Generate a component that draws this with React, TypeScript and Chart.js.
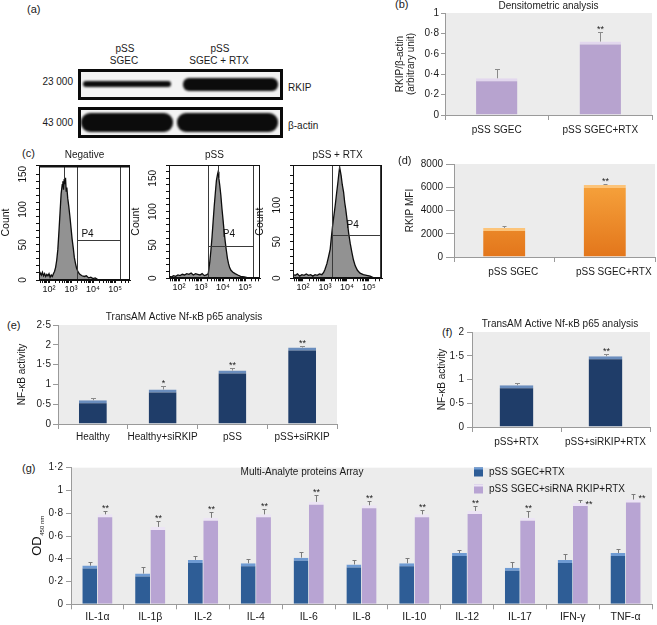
import React, { useEffect, useRef } from 'react';
import { Chart, registerables } from 'chart.js';

Chart.register(...registerables);

const FONT = '"Liberation Sans", Arial, Helvetica, sans-serif';
Chart.defaults.font.family = FONT;
Chart.defaults.color = '#1a1a1a';

// ---------------- data ----------------
const densCategories = ['pSS SGEC', 'pSS SGEC+RTX'];
const densValues = [0.36, 0.72];
const densErrors = [0.45, 0.81];
const densStars = ['', '**'];

const mfiCategories = ['pSS SGEC', 'pSS SGEC+RTX'];
const mfiValues = [2500, 6200];
const mfiErrors = [2650, 6280];
const mfiStars = ['', '**'];

const nfkbCategories = ['Healthy', 'Healthy+siRKIP', 'pSS', 'pSS+siRKIP'];
const nfkbValues = [0.6, 0.87, 1.35, 1.93];
const nfkbErrors = [0.65, 0.95, 1.42, 1.98];
const nfkbStars = ['', '*', '**', '**'];

const rtxCategories = ['pSS+RTX', 'pSS+siRKIP+RTX'];
const rtxValues = [0.88, 1.49];
const rtxErrors = [0.93, 1.54];
const rtxStars = ['', '**'];

const cytokines = ['IL-1α', 'IL-1β', 'IL-2', 'IL-4', 'IL-6', 'IL-8', 'IL-10', 'IL-12', 'IL-17', 'IFN-γ', 'TNF-α'];
const rtxOD = [0.34, 0.27, 0.39, 0.36, 0.41, 0.35, 0.36, 0.45, 0.32, 0.39, 0.45];
const rtxODErr = [0.37, 0.33, 0.42, 0.4, 0.46, 0.39, 0.41, 0.48, 0.37, 0.44, 0.49];
const sirnaOD = [0.79, 0.68, 0.76, 0.79, 0.9, 0.87, 0.79, 0.82, 0.76, 0.89, 0.92];
const sirnaODErr = [0.82, 0.735, 0.81, 0.84, 0.96, 0.91, 0.83, 0.86, 0.82, 0.92, 0.97];
const sirnaStars = ['**', '**', '**', '**', '**', '**', '**', '**', '**', '**', '**'];
const rtxStarsG = ['', '', '', '', '', '', '', '', '', '', ''];

// flow cytometry histograms (x = log10 fluorescence, y = count)
const negLog = [1.55, 1.6, 1.65, 1.7, 1.75, 1.8, 1.85, 1.9, 1.95, 2.0, 2.05, 2.1, 2.15, 2.2, 2.25, 2.3, 2.35, 2.4, 2.45, 2.5, 2.55, 2.6, 2.63, 2.66, 2.69, 2.72, 2.75, 2.78, 2.81, 2.85, 2.9, 2.95, 3.0, 3.05, 3.1, 3.15, 3.2, 3.25, 3.3, 3.35, 3.4, 3.5, 3.6, 3.7, 3.8, 3.9, 4.0, 4.1, 4.2, 4.3, 5.7];
const negCount = [6, 10, 7, 11, 6, 9, 5, 8, 6, 9, 4, 7, 5, 9, 12, 18, 28, 43, 68, 95, 122, 135, 140, 128, 143, 136, 145, 126, 131, 116, 104, 90, 74, 58, 46, 32, 24, 17, 13, 10, 8, 6, 5, 6, 3, 4, 2, 3, 1, 0, 0];

const posLog = [1.55, 1.65, 1.75, 1.85, 1.95, 2.05, 2.15, 2.25, 2.35, 2.45, 2.55, 2.65, 2.75, 2.85, 2.95, 3.05, 3.15, 3.25, 3.33, 3.4, 3.45, 3.5, 3.55, 3.6, 3.65, 3.7, 3.75, 3.78, 3.81, 3.85, 3.9, 3.95, 4.0, 4.05, 4.1, 4.15, 4.2, 4.25, 4.3, 4.36, 4.45, 4.55, 4.67, 4.8, 4.97, 5.1, 5.2, 5.7];
const posCount = [3, 2, 4, 3, 5, 4, 6, 5, 7, 6, 8, 5, 7, 6, 5, 7, 4, 5, 7, 25, 42, 62, 85, 108, 128, 147, 156, 160, 150, 140, 125, 105, 88, 70, 55, 42, 30, 22, 16, 12, 9, 7, 5, 3, 2, 1, 0, 0];

const rtxLog = [1.55, 1.65, 1.75, 1.85, 1.95, 2.05, 2.15, 2.25, 2.35, 2.45, 2.55, 2.65, 2.75, 2.86, 2.94, 3.0, 3.09, 3.16, 3.24, 3.3, 3.35, 3.41, 3.47, 3.53, 3.59, 3.63, 3.67, 3.7, 3.74, 3.79, 3.85, 3.9, 3.95, 4.0, 4.08, 4.15, 4.23, 4.3, 4.38, 4.48, 4.6, 4.75, 4.9, 5.06, 5.2, 5.3, 5.6];
const rtxCount = [5, 4, 6, 3, 5, 4, 6, 4, 5, 3, 5, 4, 6, 5, 8, 12, 20, 29, 40, 58, 72, 86, 100, 116, 131, 142, 152, 147, 140, 128, 118, 104, 94, 82, 62, 48, 35, 25, 17, 11, 7, 5, 4, 3, 1, 0, 0];

const flowDecades = [2, 3, 4, 5];
const flowDecadeLabels = ['10²', '10³', '10⁴', '10⁵'];
const flowTitles = ['Negative', 'pSS', 'pSS + RTX'];
const gateLeft = [3.27, 3.33, 3.32];
const gateRight = [5.23, 5.38, 5.5];
const gateLevel = [57, 49, 59];
const peakMarker = [2.7, 3.79, 3.65];
const peakMarkerTo = [143, 158, 150];
const gateName = 'P4';

// ---------------- plugins ----------------
const bgPlugin = {
  id: 'plotBg',
  beforeDraw(chart: any, _a: any, o: any) {
    if (!o || !o.fill) return;
    const { ctx, chartArea: a } = chart;
    ctx.save();
    ctx.fillStyle = o.fill;
    ctx.fillRect(a.left, a.top, a.right - a.left, a.bottom - a.top);
    ctx.restore();
  },
};

const errPlugin = {
  id: 'errBars',
  afterDatasetsDraw(chart: any, _a: any, o: any) {
    const { ctx } = chart;
    const ys = chart.scales.y;
    const cap = o.cap ?? 2.5;
    chart.data.datasets.forEach((ds: any, i: number) => {
      if (!ds.errors) return;
      const meta = chart.getDatasetMeta(i);
      meta.data.forEach((el: any, j: number) => {
        const x = Math.round(el.x) + 0.5;
        const top = el.y;
        const ey = Math.round(ys.getPixelForValue(ds.errors[j])) + 0.5;
        ctx.save();
        ctx.strokeStyle = o.lineColor || '#888';
        ctx.lineWidth = 1;
        ctx.beginPath();
        ctx.moveTo(x, top);
        ctx.lineTo(x, ey);
        ctx.moveTo(x - cap, ey);
        ctx.lineTo(x + cap, ey);
        ctx.stroke();
        const s = ds.stars ? ds.stars[j] : '';
        if (s) {
          ctx.fillStyle = '#1a1a1a';
          ctx.font = `${o.starSize || 9}px ${FONT}`;
          ctx.textBaseline = 'alphabetic';
          const beside = o.besideDataset === i && (o.besideIdx || []).includes(j);
          if (beside) {
            ctx.textAlign = 'left';
            ctx.fillText(s, x + (o.besideDx ?? 4), ey + (o.besideDy ?? 6));
          } else {
            ctx.textAlign = 'center';
            ctx.fillText(s, x, ey - 1);
          }
        }
        ctx.restore();
      });
    });
  },
};

const captionPlugin = {
  id: 'captions',
  afterDraw(chart: any, _a: any, o: any) {
    const items = (o && o.items) || [];
    const { ctx, chartArea: a } = chart;
    for (const it of items) {
      ctx.save();
      ctx.font = `${it.size ?? 10}px ${FONT}`;
      ctx.fillStyle = '#1a1a1a';
      ctx.textAlign = it.align ?? 'center';
      ctx.textBaseline = 'middle';
      const x = it.x ?? (a.left + a.right) / 2;
      ctx.fillText(it.text, x, it.y);
      ctx.restore();
    }
  },
};

const framePlugin = {
  id: 'frame',
  afterDraw(chart: any, _a: any, o: any) {
    if (!o || !o.on) return;
    const { ctx, chartArea: a } = chart;
    ctx.save();
    ctx.strokeStyle = '#111';
    ctx.lineWidth = 1;
    ctx.strokeRect(Math.round(a.left) + 0.5, Math.round(a.top) + 0.5, Math.round(a.right - a.left) - 1, Math.round(a.bottom - a.top) - 1);
    if (o.top > 1) {
      ctx.lineWidth = o.top;
      ctx.beginPath();
      ctx.moveTo(a.left, a.top + o.top / 2);
      ctx.lineTo(a.right, a.top + o.top / 2);
      ctx.stroke();
    }
    ctx.restore();
  },
};

const gatePlugin = {
  id: 'gates',
  afterDatasetsDraw(chart: any, _a: any, o: any) {
    if (!o || o.left === undefined) return;
    const { ctx, chartArea: a, scales } = chart;
    const xs = scales.x;
    const ys = scales.y;
    const px = (v: number) => Math.round(xs.getPixelForValue(v)) + 0.5;
    const py = (v: number) => Math.round(ys.getPixelForValue(v)) + 0.5;
    const xl = px(o.left);
    const xr = px(o.right);
    const yl = py(o.level);
    const xm = px(o.marker);
    ctx.save();
    ctx.strokeStyle = '#3a3a3a';
    ctx.lineWidth = 1;
    ctx.beginPath();
    ctx.moveTo(xl, a.top);
    ctx.lineTo(xl, a.bottom);
    ctx.moveTo(xr, a.top);
    ctx.lineTo(xr, a.bottom);
    ctx.moveTo(xl, yl);
    ctx.lineTo(xr, yl);
    ctx.moveTo(xm, a.top);
    ctx.lineTo(xm, py(o.markerTo));
    ctx.stroke();
    ctx.fillStyle = '#111';
    ctx.font = `10px ${FONT}`;
    ctx.textAlign = 'center';
    ctx.textBaseline = 'middle';
    ctx.fillText(o.label, xs.getPixelForValue(o.labelX), ys.getPixelForValue(o.labelY));
    ctx.restore();
  },
};

const legendPlugin = {
  id: 'boxLegend',
  afterDraw(chart: any, _a: any, o: any) {
    if (!o || o.x === undefined) return;
    const { ctx } = chart;
    chart.data.datasets.forEach((ds: any, i: number) => {
      const y = o.y + i * o.gap;
      ctx.save();
      ctx.fillStyle = ds.backgroundColor;
      ctx.fillRect(o.x, y - 4.5, 9, 9);
      ctx.fillStyle = ds.borderColor;
      ctx.fillRect(o.x, y - 4.5, 9, 2);
      ctx.fillStyle = '#1a1a1a';
      ctx.font = `${o.size}px ${FONT}`;
      ctx.textAlign = 'left';
      ctx.textBaseline = 'middle';
      ctx.fillText(ds.label, o.x + 15, y);
      ctx.restore();
    });
  },
};

const odPlugin = {
  id: 'odTitle',
  afterDraw(chart: any, _a: any, o: any) {
    if (!o || !o.main) return;
    const { ctx, chartArea: a } = chart;
    ctx.save();
    ctx.translate(o.x, (a.top + a.bottom) / 2);
    ctx.rotate(-Math.PI / 2);
    const mainFont = `${o.size}px ${FONT}`;
    const subFont = `${o.subSize}px ${FONT}`;
    ctx.font = mainFont;
    const w1 = ctx.measureText(o.main).width;
    ctx.font = subFont;
    const w2 = ctx.measureText(o.sub).width;
    const x0 = -(w1 + w2) / 2;
    ctx.fillStyle = '#111';
    ctx.textAlign = 'left';
    ctx.textBaseline = 'middle';
    ctx.font = mainFont;
    ctx.fillText(o.main, x0, 0);
    ctx.font = subFont;
    ctx.fillText(o.sub, x0 + w1 + 0.5, o.size * 0.38);
    ctx.restore();
  },
};

const allPlugins = [bgPlugin, errPlugin, captionPlugin, framePlugin, gatePlugin, legendPlugin, odPlugin];

// ---------------- helpers ----------------
const AXIS = '#9a9a9a';
const PLOT_BG = '#ececec';
const fmt = (v: number) => String(Math.round(v * 100) / 100).replace('.', '·');
const fmtInt = (v: number) => String(Math.round(v));

function barScales(o: any) {
  return {
    x: {
      grid: { display: true, drawOnChartArea: false, drawTicks: true, tickLength: 5, color: AXIS, offset: true },
      border: { display: true, color: AXIS },
      ticks: { color: '#1a1a1a', font: { size: o.xFont ?? 10 }, padding: o.xPad, maxRotation: 0, autoSkip: false, labelOffset: o.xLabelOffset ?? 0 },
      afterFit: (s: any) => { s.height = o.xHeight; },
    },
    y: {
      min: 0,
      max: o.yMax,
      ticks: { stepSize: o.yStep, color: '#1a1a1a', font: { size: 10 }, padding: o.yPad, callback: (v: any) => o.fmt(Number(v)) },
      grid: { drawOnChartArea: false, drawTicks: true, tickLength: o.yTickLen, color: AXIS },
      border: { display: true, color: AXIS },
      title: o.yTitle ?? { display: false },
      afterFit: (s: any) => { s.width = o.yWidth; },
    },
  };
}

function barSet(label: string, values: number[], errors: number[], stars: string[], color: any, edge: string, pct: number, cat = 1) {
  return {
    label,
    data: values,
    errors,
    stars,
    backgroundColor: color,
    borderColor: edge,
    borderWidth: { top: 3, left: 0, right: 0, bottom: 0 },
    barPercentage: pct,
    categoryPercentage: cat,
  };
}

const baseOpts = { responsive: false, maintainAspectRatio: false, animation: false, devicePixelRatio: 1, events: [] as string[] };

const orangeFill = (ctx: any) => {
  const ch = ctx.chart;
  const a = ch.chartArea;
  if (!a) return '#f29a30';
  const g = ch.ctx.createLinearGradient(0, a.top, 0, a.bottom);
  g.addColorStop(0, '#fbae45');
  g.addColorStop(1, '#e3761b');
  return g;
};

// ---------------- chart configs ----------------
function makeDens() {
  return {
    type: 'bar',
    data: { labels: densCategories, datasets: [barSet('RKIP/β-actin', densValues, densErrors, densStars, '#b7a3cf', '#e2d7ee', 0.4)] },
    options: {
      ...baseOpts,
      layout: { padding: { top: 13, right: 5, left: 0, bottom: 0 } },
      plugins: {
        legend: { display: false }, tooltip: { enabled: false },
        plotBg: { fill: PLOT_BG },
        errBars: { lineColor: '#8a8a8a', cap: 2.5 },
        captions: { items: [{ text: 'Densitometric analysis', y: 6, size: 10 }] },
      },
      scales: barScales({
        yMax: 1, yStep: 0.2, yWidth: 65, xHeight: 25, yTickLen: 4, yPad: 2, xPad: 4, fmt,
        yTitle: { display: true, text: ['RKIP/β-actin', '(arbitrary unit)'], font: { size: 10, lineHeight: 1.05 }, padding: { top: 15, bottom: 0 }, color: '#1a1a1a' },
      }),
    },
  };
}

function makeMfi() {
  return {
    type: 'bar',
    data: { labels: mfiCategories, datasets: [barSet('RKIP MFI', mfiValues, mfiErrors, mfiStars, orangeFill, '#fcc47a', 0.42)] },
    options: {
      ...baseOpts,
      layout: { padding: { top: 9, right: 2, left: 0, bottom: 0 } },
      plugins: {
        legend: { display: false }, tooltip: { enabled: false },
        plotBg: { fill: PLOT_BG },
        errBars: { lineColor: '#8a8a8a', cap: 2 },
      },
      scales: barScales({
        yMax: 8000, yStep: 2000, yWidth: 59, xHeight: 28, yTickLen: 8, yPad: 3, xPad: 4, fmt: fmtInt, xLabelOffset: 9,
        yTitle: { display: true, text: 'RKIP MFI', font: { size: 10 }, padding: { top: 9, bottom: 0 }, color: '#1a1a1a' },
      }),
    },
  };
}

function makeNfkb() {
  return {
    type: 'bar',
    data: { labels: nfkbCategories, datasets: [barSet('NF-κB activity', nfkbValues, nfkbErrors, nfkbStars, '#1f3d69', '#6a8dbd', 0.4)] },
    options: {
      ...baseOpts,
      layout: { padding: { top: 25, right: 8, left: 0, bottom: 0 } },
      plugins: {
        legend: { display: false }, tooltip: { enabled: false },
        plotBg: { fill: PLOT_BG },
        errBars: { lineColor: '#8a8a8a', cap: 2.5 },
        captions: { items: [{ text: 'TransAM Active Nf-κB p65 analysis', x: 184, y: 17, size: 10 }] },
      },
      scales: barScales({
        yMax: 2.5, yStep: 0.5, yWidth: 58, xHeight: 24, yTickLen: 5, yPad: 2, xPad: 2, fmt,
        yTitle: { display: true, text: 'NF-κB activity', font: { size: 10 }, padding: { top: 16, bottom: 0 }, color: '#1a1a1a' },
      }),
    },
  };
}

function makeRtx() {
  return {
    type: 'bar',
    data: { labels: rtxCategories, datasets: [barSet('NF-κB activity', rtxValues, rtxErrors, rtxStars, '#1f3d69', '#6a8dbd', 0.38)] },
    options: {
      ...baseOpts,
      layout: { padding: { top: 32, right: 7, left: 0, bottom: 0 } },
      plugins: {
        legend: { display: false }, tooltip: { enabled: false },
        plotBg: { fill: PLOT_BG },
        errBars: { lineColor: '#8a8a8a', cap: 2.5 },
        captions: { items: [{ text: 'TransAM Active Nf-κB p65 analysis', x: 140, y: 24, size: 10 }] },
      },
      scales: barScales({
        yMax: 2, yStep: 0.5, yWidth: 52, xHeight: 23, yTickLen: 5, yPad: 3, xPad: 4, fmt,
        yTitle: { display: true, text: 'NF-κB activity', font: { size: 10 }, padding: { top: 16, bottom: 0 }, color: '#1a1a1a' },
      }),
    },
  };
}

function makeArray() {
  return {
    type: 'bar',
    data: {
      labels: cytokines,
      datasets: [
        barSet('pSS SGEC+RTX', rtxOD, rtxODErr, rtxStarsG, '#2e5d96', '#6f9bd3', 0.97, 0.58),
        barSet('pSS SGEC+siRNA RKIP+RTX', sirnaOD, sirnaODErr, sirnaStars, '#b8a4d3', '#ece4f5', 0.97, 0.58),
      ],
    },
    options: {
      ...baseOpts,
      layout: { padding: { top: 12.7, right: 5, left: 0, bottom: 0 } },
      plugins: {
        legend: { display: false }, tooltip: { enabled: false },
        plotBg: { fill: PLOT_BG },
        errBars: { lineColor: '#7a7a7a', cap: 2, starSize: 9, besideDataset: 1, besideIdx: [9, 10], besideDx: 5, besideDy: 6 },
        captions: { items: [{ text: 'Multi-Analyte proteins Array', x: 302, y: 17, size: 10 }] },
        boxLegend: { x: 474, y: 17, gap: 17, size: 10 },
        odTitle: { main: 'OD', sub: '450 nm', size: 13, subSize: 6, x: 37 },
      },
      scales: barScales({
        yMax: 1.2, yStep: 0.2, yWidth: 71, xHeight: 20.7, yTickLen: 5, yPad: 3, xPad: 2, fmt, xFont: 10.5,
      }),
    },
  };
}

function flowTicks() {
  const out: number[] = [];
  for (const d of [1, 2, 3, 4, 5]) {
    for (const m of [1, 2, 3, 4, 5, 6, 7, 8, 9]) out.push(d + Math.log10(m));
  }
  return out;
}

function makeFlow(i: number, logs: number[], counts: number[], yMax: number, xMax: number, xHeight: number, topW: number, p4: { x: number; y: number }) {
  const ticks = flowTicks();
  return {
    type: 'line',
    data: {
      datasets: [{
        data: logs.map((x, k) => ({ x, y: counts[k] })),
        borderColor: '#0d0d0d', borderWidth: 1.3, backgroundColor: '#929292', fill: 'origin', pointRadius: 0, tension: 0,
      }],
    },
    options: {
      ...baseOpts,
      layout: { padding: { top: 20, right: 5, left: 0, bottom: 0 } },
      plugins: {
        legend: { display: false }, tooltip: { enabled: false },
        captions: { items: [{ text: flowTitles[i], y: 10, size: 10 }] },
        frame: { on: true, top: topW },
        gates: { left: gateLeft[i], right: gateRight[i], level: gateLevel[i], marker: peakMarker[i], markerTo: peakMarkerTo[i], label: gateName, labelX: p4.x, labelY: p4.y },
      },
      scales: {
        x: {
          type: 'linear', min: 1.545, max: xMax,
          afterBuildTicks: (s: any) => { s.ticks = ticks.filter((v) => v >= s.min && v <= s.max).map((v) => ({ value: v })); },
          ticks: {
            autoSkip: false, maxRotation: 0, font: { size: 9 }, padding: 1, color: '#111',
            callback: (v: any) => { const k = flowDecades.indexOf(Number(v)); return k >= 0 ? flowDecadeLabels[k] : ''; },
          },
          grid: { drawOnChartArea: false, tickLength: 3, color: '#111' },
          border: { color: '#111' },
          afterFit: (s: any) => { s.height = xHeight; },
        },
        y: {
          min: 0, max: yMax,
          ticks: {
            stepSize: 10, autoSkip: false, minRotation: 90, maxRotation: 90, crossAlign: 'center', padding: 4, font: { size: 10 }, color: '#111',
            callback: (v: any) => (Number(v) % 50 === 0 ? String(v) : ''),
          },
          grid: { drawOnChartArea: false, tickLength: 3, color: '#111' },
          border: { color: '#111' },
          title: { display: true, text: 'Count', font: { size: 10.5 }, padding: { top: 0, bottom: 0 }, color: '#111' },
          afterFit: (s: any) => { s.width = 39; },
        },
      },
    },
  };
}

// ---------------- components ----------------
function ChartBox({ left, top, width, height, make }: { left: number; top: number; width: number; height: number; make: () => any }) {
  const ref = useRef<HTMLCanvasElement>(null);
  useEffect(() => {
    const cfg = make();
    cfg.plugins = allPlugins;
    const c = new Chart(ref.current as HTMLCanvasElement, cfg);
    return () => c.destroy();
  }, []);
  return (
    <canvas
      ref={ref}
      width={width}
      height={height}
      style={{ position: 'absolute', left, top, width, height, display: 'block' }}
    />
  );
}

function Txt({ x, y, s, size = 10.5, align = 'left' }: { x: number; y: number; s: string; size?: number; align?: string }) {
  const tx = align === 'center' ? '-50%' : align === 'right' ? '-100%' : '0';
  return (
    <div style={{ position: 'absolute', left: x, top: y, transform: `translate(${tx}, -50%)`, fontSize: size, lineHeight: 1, whiteSpace: 'nowrap', color: '#1a1a1a', fontFamily: FONT }}>
      {s}
    </div>
  );
}

function Band({ x, y, w, h, r }: { x: number; y: number; w: number; h: number; r: number }) {
  return <div style={{ position: 'absolute', left: x, top: y, width: w, height: h, borderRadius: r, background: '#0c0c0c', filter: 'blur(0.9px)' }} />;
}

function Blot() {
  const box = (top: number) => (
    <div style={{ position: 'absolute', left: 78, top, width: 205, height: 31, boxSizing: 'border-box', border: '3px solid #0a0a0a', background: '#f3f3f3' }} />
  );
  return (
    <>
      <Txt x={27} y={9} s="(a)" size={11} />
      <Txt x={125} y={49} s="pSS" size={10} align="center" />
      <Txt x={124} y={61} s="SGEC" size={10} align="center" />
      <Txt x={220} y={49} s="pSS" size={10} align="center" />
      <Txt x={219} y={61} s="SGEC + RTX" size={10} align="center" />
      {box(69)}
      {box(107)}
      <Band x={83} y={81} w={88} h={6} r={3} />
      <Band x={183} y={78} w={95} h={13} r={6} />
      <Band x={81} y={113} w={92} h={19} r={9} />
      <Band x={177} y={113} w={101} h={19} r={9} />
      <Txt x={73} y={82} s="23 000" size={10} align="right" />
      <Txt x={73} y={123} s="43 000" size={10} align="right" />
      <Txt x={288} y={88} s="RKIP" size={10} />
      <Txt x={288} y={126} s="β-actin" size={10} />
    </>
  );
}

export default function App() {
  return (
    <div style={{ position: 'absolute', left: 0, top: 0, width: 657, height: 625, background: '#fff', overflow: 'hidden', fontFamily: FONT }}>
      <Blot />
      <Txt x={395} y={4} s="(b)" size={11} />
      <ChartBox left={380} top={0} width={277} height={140} make={makeDens} />

      <Txt x={22} y={153} s="(c)" size={11} />
      <ChartBox left={0} top={145} width={135} height={155} make={() => makeFlow(0, negLog, negCount, 163, 5.68, 20, 2.5, { x: 3.75, y: 65 })} />
      <ChartBox left={130} top={145} width={135} height={155} make={() => makeFlow(1, posLog, posCount, 170, 5.68, 21.7, 1, { x: 4.27, y: 66 })} />
      <ChartBox left={254} top={145} width={133} height={155} make={() => makeFlow(2, rtxLog, rtxCount, 155, 5.6, 21.7, 1, { x: 4.26, y: 73 })} />

      <Txt x={398} y={160} s="(d)" size={11} />
      <ChartBox left={395} top={155} width={262} height={130} make={makeMfi} />

      <Txt x={7} y={325} s="(e)" size={11} />
      <ChartBox left={0} top={300} width={345} height={148} make={makeNfkb} />

      <Txt x={442} y={332} s="(f)" size={11} />
      <ChartBox left={420} top={300} width={237} height={150} make={makeRtx} />

      <Txt x={22} y={468} s="(g)" size={11} />
      <ChartBox left={0} top={455} width={657} height={170} make={makeArray} />
    </div>
  );
}
